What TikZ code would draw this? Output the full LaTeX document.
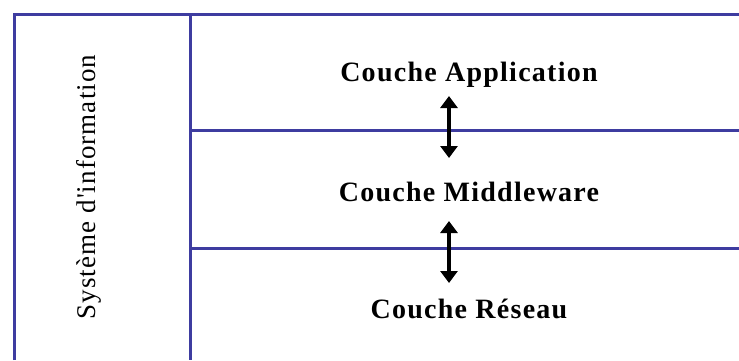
\documentclass[tikz,border=0pt]{standalone}
\usepackage{fontspec}
\setmainfont{Liberation Serif}
\newfontfamily\layerfont[LetterSpace=4.5]{Liberation Serif}
\newfontfamily\sidefont[LetterSpace=4]{Liberation Serif}
\usetikzlibrary{arrows.meta}
\definecolor{framecol}{RGB}{62,60,160}
\tikzset{
  frameline/.style={draw=framecol, line width=3pt},
  layer/.style={font=\layerfont\fontsize{28}{30}\selectfont\bfseries, inner sep=0pt, anchor=center},
  sidelabel/.style={font=\sidefont\fontsize{27}{30}\selectfont, rotate=90, inner sep=0pt, anchor=center},
  link/.style={line width=3.5pt, {Triangle[width=17pt,length=12pt]}-{Triangle[width=17pt,length=12pt]}}
}
\begin{document}
\begin{tikzpicture}[x=1pt,y=-1pt]
  \useasboundingbox[fill=white] (0,0) rectangle (739,360);
  % frame and layer separators
  \draw[frameline] (14,360) -- (14,14) -- (739,14);
  \draw[frameline] (190,14) -- (190,360);
  \draw[frameline] (190,130) -- (739,130);
  \draw[frameline] (190,248) -- (739,248);
  % texts
  \node[sidelabel] (si) at (89,187) {Système d'information};
  \node[layer] (app) at (469,75) {Couche Application};
  \node[layer] (mid) at (469,192) {Couche Middleware};
  \node[layer] (net) at (469,309) {Couche Réseau};
  % connectors between layers
  \coordinate (a1) at (449,96);
  \coordinate (b1) at (449,158);
  \coordinate (a2) at (449,221);
  \coordinate (b2) at (449,283);
  \draw[link] (a1) -- (b1);
  \draw[link] (a2) -- (b2);
\end{tikzpicture}
\end{document}
